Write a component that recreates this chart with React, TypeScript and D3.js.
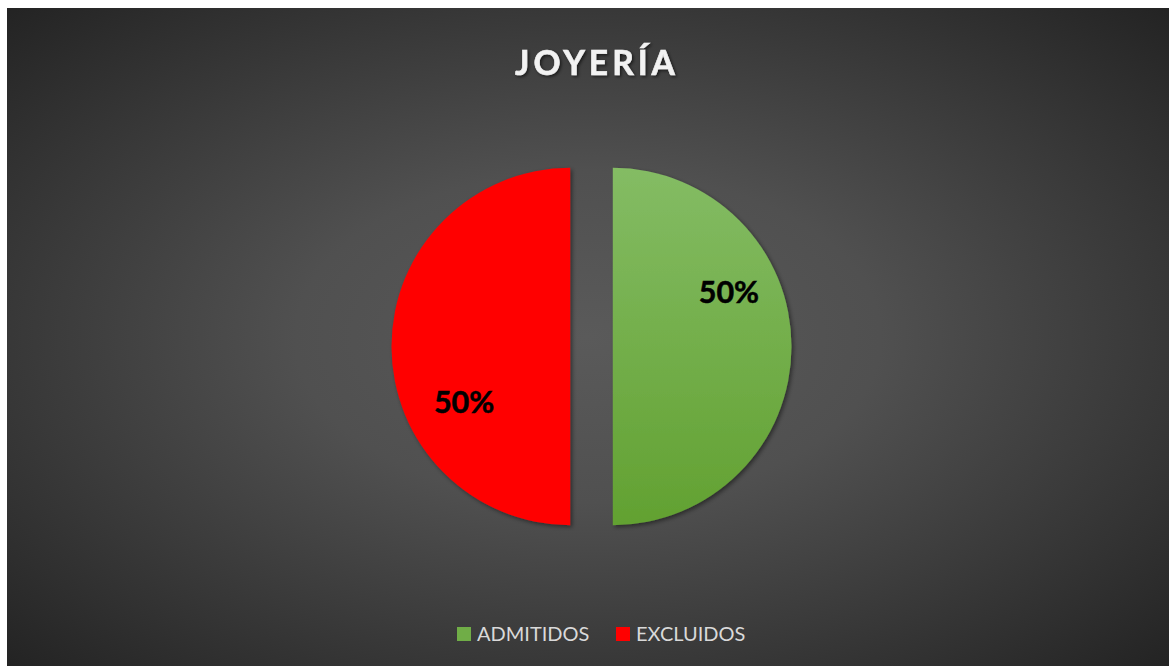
import React from "react";
import * as d3 from "d3";

const categories = ["ADMITIDOS", "EXCLUIDOS"];
const values = [50, 50];
const colors = ["#70ad47", "#ff0000"];
const title = "JOYERÍA";

const W = 1169;
const H = 666;

export default function App() {
  const chartX = 7;
  const chartY = 8;
  const cx = 591.5;
  const cy = 346.5;
  const r = 178.7;
  const explode = 21.3;

  const pie = d3
    .pie<number>()
    .sort(null)
    .value((d) => d)
    .startAngle(0)
    .endAngle(2 * Math.PI);
  const arcs = pie(values);
  const arcGen = d3.arc<d3.PieArcDatum<number>>().innerRadius(0).outerRadius(r);
  const total = d3.sum(values);
  const fmt = (v: number) => `${Math.round((v / total) * 100)}%`;

  const legendY = 634;
  const legendItems = [
    { x: 457, tx: 477 },
    { x: 616, tx: 636 },
  ];

  return (
    <svg
      width={W}
      height={H}
      style={{ position: "fixed", left: 0, top: 0, display: "block" }}
    >
      <defs>
        <radialGradient id="bg" cx="0.5" cy="0.5" r="0.72" fx="0.5" fy="0.5">
          <stop offset="0" stopColor="#5a5a5a" />
          <stop offset="0.35" stopColor="#505050" />
          <stop offset="1" stopColor="#222222" />
        </radialGradient>
        <linearGradient id="g0" x1="0" y1="0" x2="0" y2="1">
          <stop offset="0" stopColor="#84bc64" />
          <stop offset="1" stopColor="#62a131" />
        </linearGradient>
        <linearGradient id="g1" x1="0" y1="0" x2="0" y2="1">
          <stop offset="0" stopColor="#ff0000" />
          <stop offset="1" stopColor="#ff0000" />
        </linearGradient>
        <filter id="sh" x="-20%" y="-20%" width="140%" height="140%">
          <feDropShadow dx="2" dy="2" stdDeviation="2" floodColor="#000" floodOpacity="0.45" />
        </filter>
        <filter id="tsh" x="-20%" y="-40%" width="140%" height="180%">
          <feDropShadow dx="1.5" dy="1.5" stdDeviation="1.5" floodColor="#000" floodOpacity="0.6" />
        </filter>
      </defs>
      <rect x={0} y={0} width={W} height={H} fill="#ffffff" />
      <rect x={chartX} y={chartY} width={W - chartX} height={H - chartY} fill="url(#bg)" />

      <text
        x={597}
        y={74.5}
        textAnchor="middle"
        fill="#f2f2f2"
        stroke="#f2f2f2"
        strokeWidth={0.6}
        fontFamily="Lato, 'Open Sans', sans-serif"
        fontWeight="bold"
        fontSize={33.5}
        letterSpacing={4}
        filter="url(#tsh)"
      >
        {title}
      </text>

      {arcs.map((a, i) => {
        const mid = (a.startAngle + a.endAngle) / 2;
        const ox = Math.sin(mid) * explode;
        const oy = -Math.cos(mid) * explode;
        const la = mid - 0.46;
        const lr = 124;
        const lx = Math.sin(la) * lr + 5;
        const ly = -Math.cos(la) * lr + 1;
        return (
          <g key={categories[i]} transform={`translate(${cx + ox},${cy + oy})`}>
            <path d={arcGen(a) || ""} fill={`url(#g${i})`} filter="url(#sh)" />
            <text
              x={lx}
              y={ly + 10.5}
              textAnchor="middle"
              fill="#000"
              stroke="#000"
              strokeWidth={0.5}
              fontFamily="Lato, 'Open Sans', sans-serif"
              fontWeight="bold"
              fontSize={30.5}
            >
              {fmt(a.data)}
            </text>
          </g>
        );
      })}

      {categories.map((c, i) => (
        <g key={c}>
          <rect
            x={legendItems[i].x}
            y={legendY - 7}
            width={14}
            height={14}
            fill={colors[i]}
          />
          <text
            x={legendItems[i].tx}
            y={legendY + 7}
            fill="#d9d9d9"
            fontFamily="Lato, 'Open Sans', sans-serif"
            fontSize={20}
          >
            {c}
          </text>
        </g>
      ))}
    </svg>
  );
}
